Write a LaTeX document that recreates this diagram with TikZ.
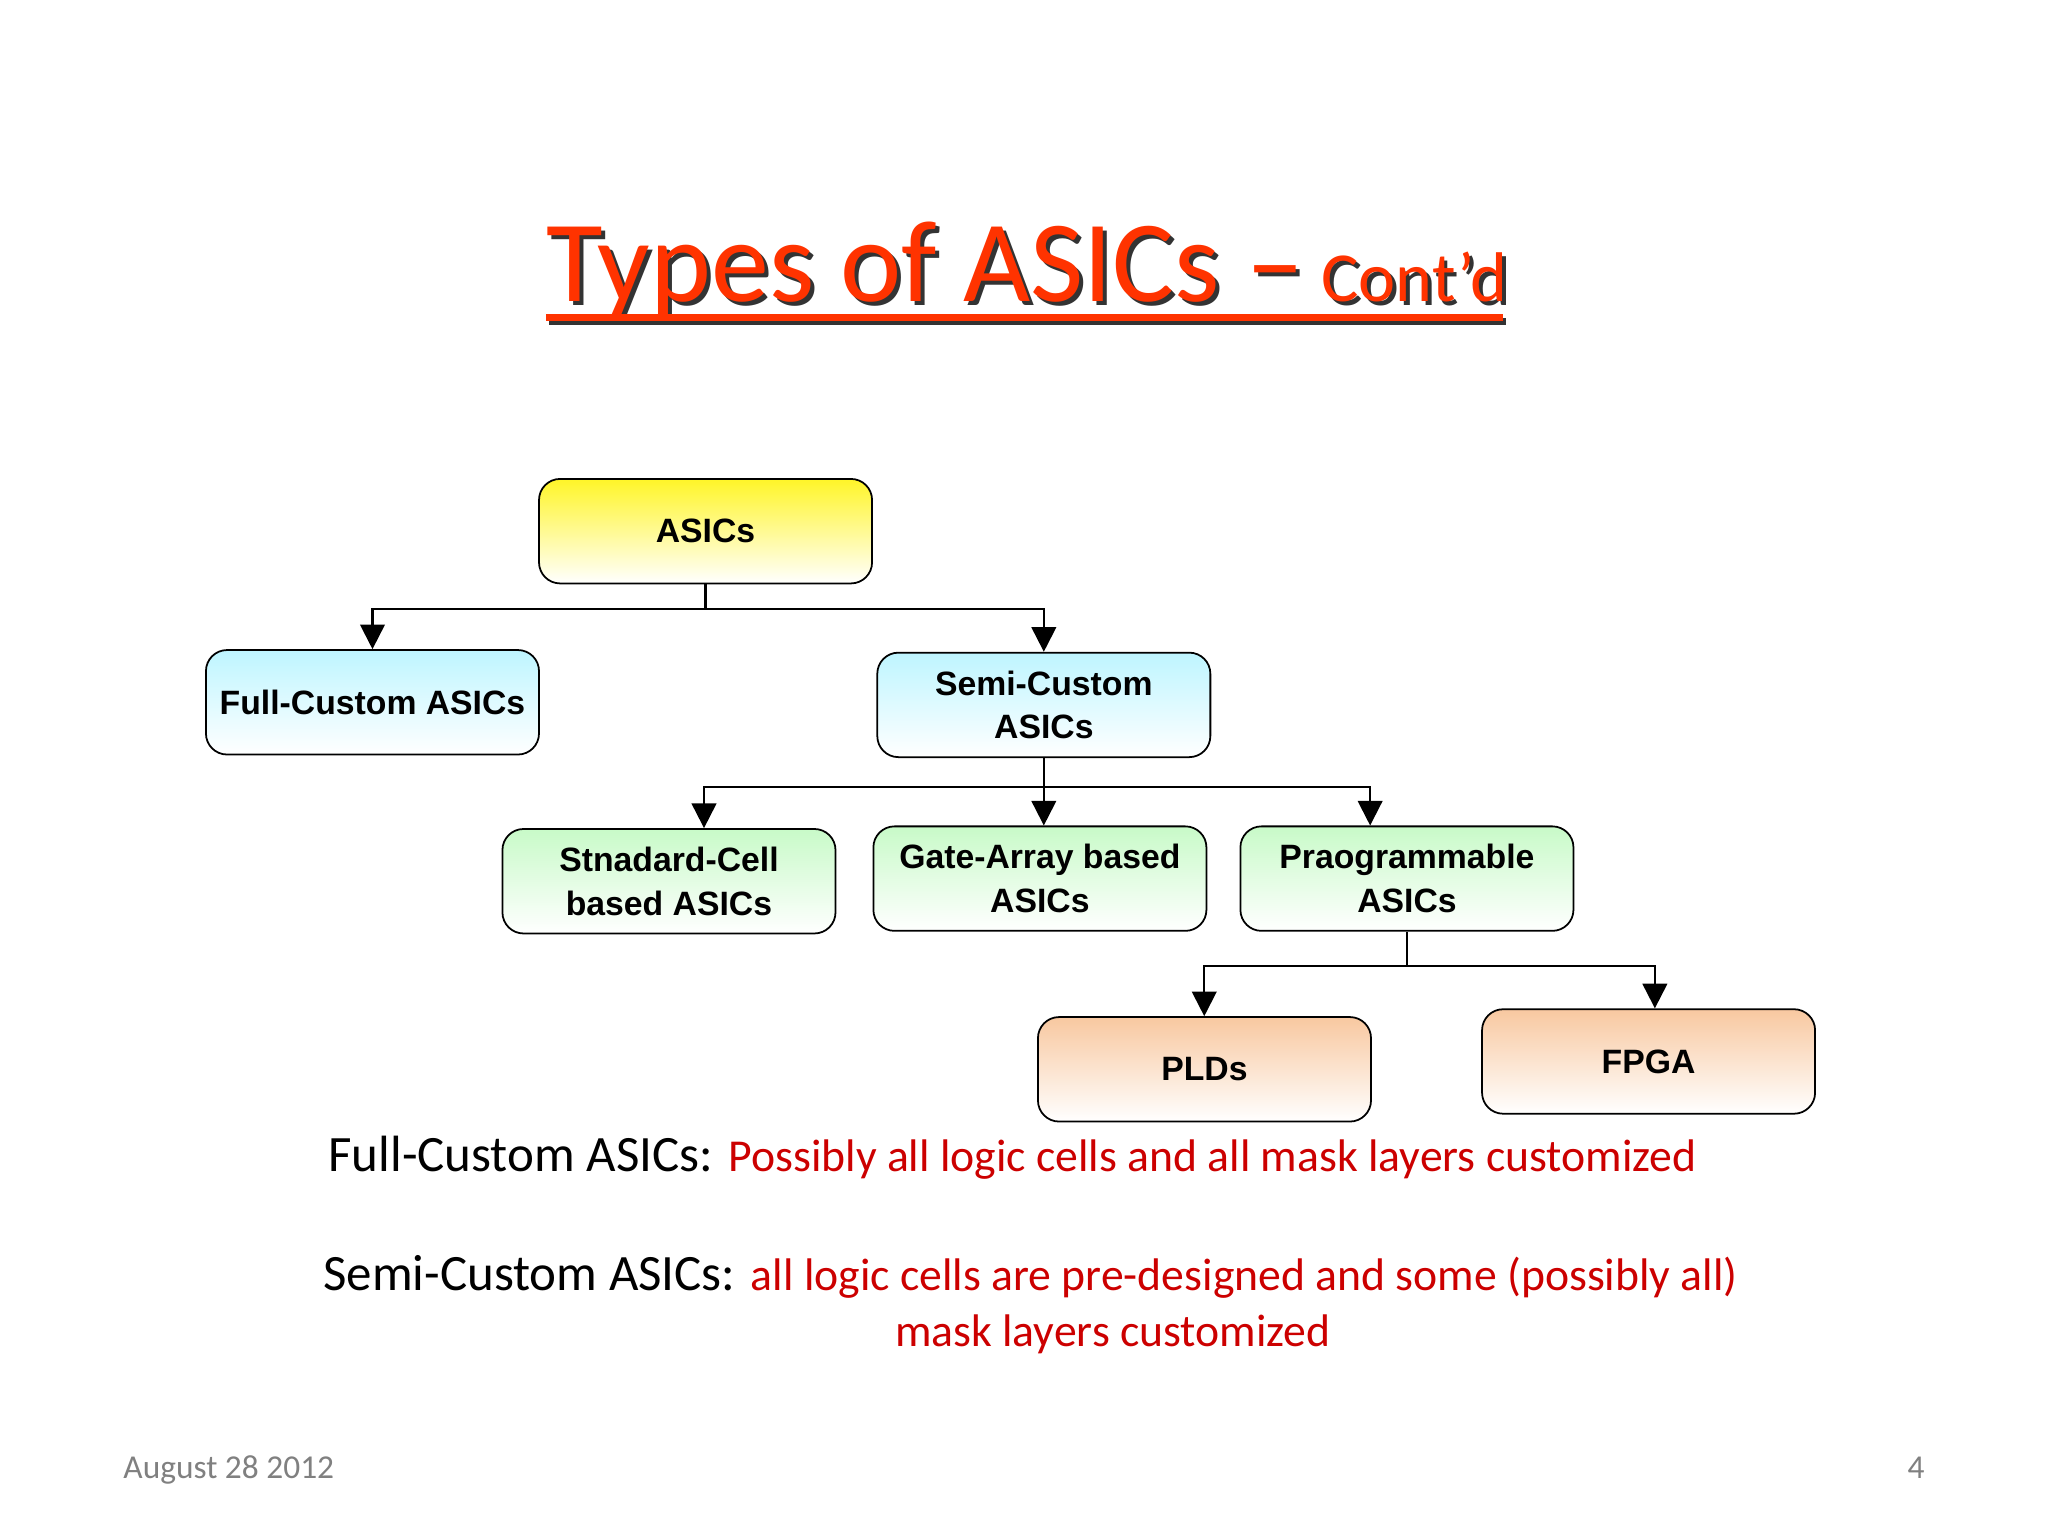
\documentclass[tikz,border=0pt]{standalone}
\usepackage{fontspec}
\setmainfont{Carlito}
\newfontfamily\arialb{Liberation Sans}[Scale=1]
\usetikzlibrary{arrows.meta,calc}
\definecolor{ttl}{RGB}{255,51,0}
\definecolor{txr}{RGB}{204,0,0}
\definecolor{yel}{RGB}{255,245,40}
\definecolor{cya}{RGB}{190,245,255}
\definecolor{gre}{RGB}{200,250,200}
\definecolor{ora}{RGB}{248,200,160}
\begin{document}
\begin{tikzpicture}[x=0.1306mm,y=-0.1306mm,
  box/.style={draw=black,line width=0.5pt,rounded corners=6pt,minimum width=255*0.1306mm,minimum height=80*0.1306mm,inner sep=0pt,anchor=north west,align=center,font=\arialb\bfseries\fontsize{9.6}{12.4}\selectfont,text=black},
  yb/.style={box,top color=yel,bottom color=white},
  cb/.style={box,top color=cya,bottom color=white},
  gb/.style={box,top color=gre,bottom color=white},
  ob/.style={box,top color=ora,bottom color=white},
  ar/.style={-{Triangle[length=7pt,width=7pt]},line width=0.6pt},
  ln/.style={line width=0.6pt}]
\useasboundingbox (0,0) rectangle (1568,1176);
% title
\node[anchor=base west,inner sep=0pt,text=black!80,font=\fontsize{33}{38}\selectfont] at (421,234) {Types of ASICs \textendash};
\node[anchor=base west,inner sep=0pt,text=ttl,font=\fontsize{33}{38}\selectfont] (title) at (418,231) {Types of ASICs \textendash};
\node[anchor=base west,inner sep=0pt,text=black!80,font=\fontsize{20}{24}\selectfont] at (1014,234) {Cont’d};
\node[anchor=base west,inner sep=0pt,text=ttl,font=\fontsize{20}{24}\selectfont] (cont) at (1011,231) {Cont’d};
\draw[black!80,line width=2pt] (420,246) -- (1153,246);
\draw[ttl,line width=2pt] (418,243) -- (1151,243);
% boxes
\node[yb] (asic) at (412,366) {ASICs};
\node[cb] (full) at (157,497) {Full-Custom ASICs};
\node[cb] (semi) at (671,499) {Semi-Custom\\ASICs};
\node[gb] (std) at (384,634) {Stnadard-Cell\\based ASICs};
\node[gb] (gate) at (668,632) {Gate-Array based\\ASICs};
\node[gb] (prog) at (949,632) {Praogrammable\\ASICs};
\node[ob] (pld) at (794,778) {PLDs};
\node[ob] (fpga) at (1134,772) {FPGA};
% connectors
\coordinate (j1) at ($(asic.south)+(0,19)$);
\draw[ln] (asic.south) -- (j1);
\draw[ar] (j1) -| (full.north);
\draw[ar] (j1) -| (semi.north);
\coordinate (j2) at ($(semi.south)+(0,22)$);
\draw[ln] (semi.south) -- (j2);
\draw[ar] (j2) -| (539,634);
\draw[ar] (j2) -- (j2 |- gate.north);
\draw[ar] (j2) -| (1049,632);
\coordinate (j3) at ($(prog.south)+(0,26)$);
\draw[ln] (prog.south) -- (j3);
\draw[ar] (j3) -| (922,778);
\draw[ar] (j3) -| (1267,772);
% texts
\node[anchor=base west,inner sep=0pt,font=\fontsize{14.5}{17}\selectfont] (t1) at (251,897) {Full-Custom ASICs: \textcolor{txr}{\fontsize{13}{16}\selectfont Possibly all logic cells and all mask layers customized}};
\node[anchor=base west,inner sep=0pt,font=\fontsize{14.5}{17}\selectfont] (t2) at (247,988) {Semi-Custom ASICs: \textcolor{txr}{\fontsize{13}{16}\selectfont all logic cells are pre-designed and some (possibly all)}};
\node[anchor=base,inner sep=0pt,text=txr,font=\fontsize{13}{16}\selectfont] (t3) at (852,1031) {mask layers customized};
\node[anchor=base west,inner sep=0pt,text=black!50,font=\fontsize{9.5}{12}\selectfont] (d) at (94,1132) {August 28 2012};
\node[anchor=base east,inner sep=0pt,text=black!50,font=\fontsize{9.5}{12}\selectfont] (p) at (1474,1132) {4};
\end{tikzpicture}
\end{document}
